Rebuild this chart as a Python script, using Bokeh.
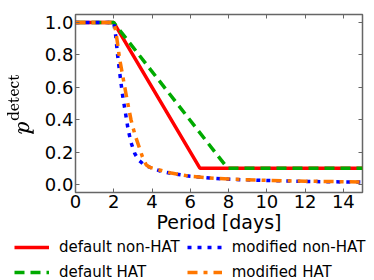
from bokeh.plotting import figure
from bokeh.layouts import column
from bokeh.models import Legend, LegendItem, LinearAxis, Range1d, FixedTicker, PrintfTickFormatter
from bokeh.embed import file_html
from bokeh.resources import INLINE

# Data
period_default_nonhat = [0.0, 2.0, 6.5, 15.0]
pdet_default_nonhat = [1.0, 1.0, 0.1, 0.1]

period_default_hat = [0.0, 2.0, 7.95, 15.0]
pdet_default_hat = [1.0, 1.0, 0.1, 0.1]

period_mod_nonhat = [0.0, 2.0, 2.1, 2.2, 2.3, 2.45, 2.6, 2.75, 2.9, 3.1, 3.3, 3.6, 4.0, 4.5, 5.0, 6.0, 7.0, 8.0, 10.0, 12.0, 15.0]
pdet_mod_nonhat = [1.0, 1.0, 0.92, 0.80, 0.70, 0.56, 0.45, 0.34, 0.26, 0.19, 0.15, 0.12, 0.10, 0.08, 0.068, 0.05, 0.04, 0.032, 0.024, 0.018, 0.014]

period_mod_hat = [0.0, 2.0, 2.1, 2.2, 2.3, 2.5, 2.7, 2.9, 3.1, 3.3, 3.5, 3.7, 3.9, 4.2, 5.0, 6.0, 7.0, 8.0, 10.0, 12.0, 15.0]
pdet_mod_hat = [1.0, 1.0, 0.95, 0.87, 0.78, 0.65, 0.52, 0.40, 0.31, 0.24, 0.17, 0.12, 0.105, 0.095, 0.07, 0.05, 0.04, 0.033, 0.025, 0.02, 0.015]

labels = ["default non-HAT", "default HAT", "modified non-HAT", "modified HAT"]
colors = ["#ff0000", "#00aa00", "#0000ff", "#ff7700"]
dashes = ["solid", "10 6", "4 6", "10 6 4 6"]
series_x = [period_default_nonhat, period_default_hat, period_mod_nonhat, period_mod_hat]
series_y = [pdet_default_nonhat, pdet_default_hat, pdet_mod_nonhat, pdet_mod_hat]

x_ticks = [0, 2, 4, 6, 8, 10, 12, 14]
y_ticks = [0.0, 0.2, 0.4, 0.6, 0.8, 1.0]

FONT = "DejaVu Sans"
FRAME = "#666666"
LW = 3.5

p = figure(width=370, height=238, output_backend="svg", toolbar_location=None,
           x_range=Range1d(0, 15), y_range=Range1d(-0.05, 1.05),
           min_border_left=75, min_border_right=8, min_border_top=14, min_border_bottom=46)
p.frame_align = False
p.grid.visible = False
p.outline_line_color = FRAME
p.outline_line_width = 1.5
p.background_fill_color = "white"
p.border_fill_color = "white"

for ax in (p.xaxis[0], p.yaxis[0]):
    ax.axis_line_color = None
    ax.major_tick_in = 4
    ax.major_tick_out = 0
    ax.major_tick_line_color = FRAME
    ax.minor_tick_line_color = None
    ax.major_label_text_font = FONT
    ax.major_label_text_font_size = "18px"
    ax.major_label_text_color = "black"
    ax.axis_label_text_font = FONT
    ax.axis_label_text_font_size = "19px"
    ax.axis_label_text_font_style = "normal"
    ax.axis_label_text_color = "black"

p.xaxis.ticker = FixedTicker(ticks=x_ticks)
p.yaxis.ticker = FixedTicker(ticks=y_ticks)
p.yaxis.formatter = PrintfTickFormatter(format="%.1f")
p.xaxis.major_label_standoff = 2
p.yaxis.major_label_standoff = 2
p.xaxis.axis_label = "Period [days]"
p.xaxis.axis_label_standoff = 0
p.yaxis.axis_label = r"$$p^{\mathrm{detect}}$$"
p.yaxis.axis_label_standoff = 8

for loc, tk in (("right", y_ticks), ("above", x_ticks)):
    a = LinearAxis(ticker=FixedTicker(ticks=tk), axis_line_color=None,
                   major_tick_in=4, major_tick_out=0, major_tick_line_color=FRAME,
                   minor_tick_line_color=None,
                   major_label_overrides={t: "" for t in tk},
                   major_label_standoff=0)
    p.add_layout(a, loc)

for xs, ys, c, d in zip(series_x, series_y, colors, dashes):
    p.line(xs, ys, line_color=c, line_width=LW, line_dash=d)

# Legend panel below the plot (its lines lie outside its own ranges, only the legend shows)
lg = figure(width=370, height=42, output_backend="svg", toolbar_location=None,
            x_range=Range1d(100, 101), y_range=Range1d(100, 101),
            x_axis_location=None, y_axis_location=None,
            min_border_left=14, min_border_right=0, min_border_top=0, min_border_bottom=0)
lg.frame_align = False
lg.grid.visible = False
lg.outline_line_color = None
items = []
for xs, ys, c, d, lab in zip(series_x, series_y, colors, dashes, labels):
    r = lg.line(xs, ys, line_color=c, line_width=LW, line_dash=d)
    items.append(LegendItem(label=lab, renderers=[r]))

legend = Legend(items=items, ncols=2, orientation="vertical")
legend.label_text_font = FONT
legend.label_text_font_size = "15px"
legend.label_text_color = "black"
legend.glyph_width = 35
legend.glyph_height = 14
legend.label_height = 14
legend.label_width = 119
legend.label_standoff = 10
legend.spacing = 7
legend.padding = 0
legend.margin = 0
legend.border_line_color = None
legend.background_fill_alpha = 0
legend.location = "top_left"
lg.add_layout(legend, "center")

layout = column(p, lg, spacing=0)
open("out.html", "w").write(file_html(layout, INLINE))
